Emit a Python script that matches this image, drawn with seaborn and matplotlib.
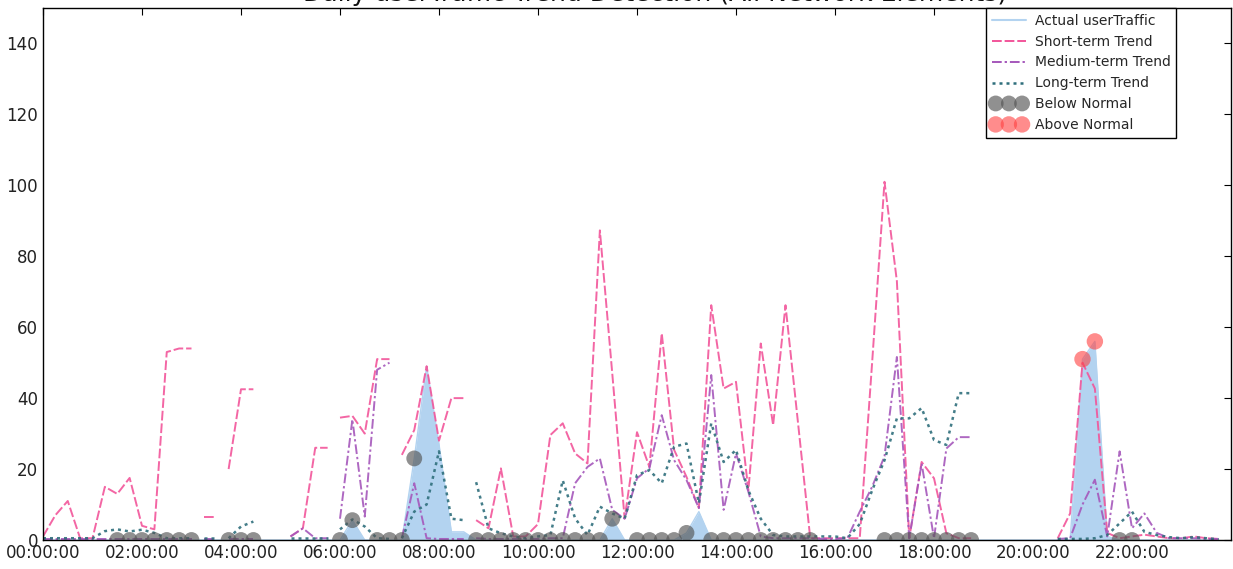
import numpy as np
import pandas as pd
import matplotlib
matplotlib.use("Agg")
import matplotlib.pyplot as plt
import seaborn as sns
from matplotlib.lines import Line2D

sns.set_style("white")
plt.rcParams["font.family"] = ["DejaVu Sans"]

nan = np.nan

# ---------------- data: one reading every 15 minutes ----------------
slot_hours = np.arange(96) * 0.25

actual_traffic = [
    0, 0, 0, 0, 0, 0, 0, 0, 0, 0, 0, 0,
    0, 0, 0, 0, 0, 0, 0, 0, 0, 0, 0, 0,
    0, 5.6, 0, 0, 0, 0, 23, 49, 27, 2.3, 2.3, 0,
    0, 0, 0, 0, 0, 0, 0, 0, 0, 0, 6, 0,
    0, 0, 0, 0, 2, 8, 0, 0, 0, 0, 0, 0,
    0, 0, 0, 0, 0, 0, 0, 0, 0, 0, 0, 0,
    0, 0, 0, 0, 0, 0, 0, 0, 0, 0, 0, 0,
    51, 56, 1, 0, 0, 0, 0, 0, 0, 0, 0, 0,
]

short_trend = [
    1, 7, 11, 0.5, 0.5, 15, 13, 17.5, 4, 3, 53, 54,
    54, 6.5, 6.5, 20, 42.5, 42.5, nan, nan, 1, 3.3, 26, 26,
    34.5, 35, 30, 51, 51, 24, 31, 49, 28, 40, 40, 5.6,
    3.3, 20.2, 1, 1, 4.5, 29.6, 32.9, 24.4, 21.6, 87.3, 47, 6.1,
    30.4, 20.6, 58.3, 25.4, 17.8, 9, 66.2, 42.7, 44.6, 14, 55.4, 32.4,
    66.2, 33.4, 0.5, 0.5, 0.5, 0.5, 0.5, 50, 101, 73, 0.5, 22,
    17.4, 1.9, 0.5, 0.5, nan, nan, nan, nan, nan, nan, 0.5, 7.5,
    50, 42.7, 2, 0.5, 1, 1.5, 1, 0.5, 0.5, 1, 0.5, 0.3,
]

medium_trend = [
    0.3, 0.3, 0.3, 0.3, 0.3, 0.3, 0.3, 0.3, 0.3, 0.3, 0.3, 0.3,
    0.3, 0.3, 0.3, 0.3, 0.3, 0.3, nan, nan, 1, 3.3, 0.5, 0.5,
    6, 34, 6.6, 48, 50, 0.5, 16, 0.5, 0.3, 0.3, 0.3, 0.5,
    0.3, 0.3, 0.3, 0.3, 0.3, 0.5, 0.5, 16, 20.6, 23, 8.5, 6,
    17.4, 20.2, 35.2, 22.5, 16.9, 9, 46.5, 8.5, 24.4, 13.6, 1, 0.5,
    0.5, 0.5, 0.5, 0.3, 0.3, 0.5, 8, 15, 23.6, 51.6, 0.5, 21.6,
    0.5, 25.8, 29, 29, nan, nan, nan, nan, nan, nan, 0.3, 0.5,
    10, 17, 1, 25, 3.3, 7.5, 2, 0.5, 0.5, 0.5, 0.3, 0.3,
]

long_trend = [
    0.5, 0.5, 0.5, 0.5, 0.5, 2.5, 3.0, 2.4, 2.9, 2.0, 0.5, 0.5,
    0.5, 0.5, 0.5, 0.5, 3.8, 5.2, nan, nan, 0.5, 0.5, 0.5, 0.5,
    3, 5.8, 3.8, 0.5, 0.3, 0.5, 8, 10, 25, 6, 5.6, 16.3,
    3.3, 1.9, 1, 0.5, 1, 1.4, 16.8, 6.1, 1.4, 9.4, 7.5, 6,
    18.3, 19.7, 16, 26.3, 27.2, 10.4, 32.9, 22, 25.4, 14, 6, 1.4,
    1, 1, 1, 1, 1, 0.5, 4.5, 14, 22.5, 34.3, 34.3, 37.2,
    28.2, 26.8, 41.4, 41.4, nan, nan, nan, nan, nan, nan, 0.3, 0.3,
    0.3, 0.5, 1.4, 4.7, 8, 2.3, 1.4, 0.8, 0.5, 0.8, 0.5, 0.2,
]

# readings missing right before these slots (trend lines restart there)
trend_breaks = [13, 15, 24, 29, 35]

below_slots = [6, 7, 8, 9, 10, 11, 12, 15, 16, 17, 24, 25, 27, 28, 29, 30,
               35, 36, 37, 38, 39, 40, 41, 42, 43, 44, 45, 46,
               48, 49, 50, 51, 52, 54, 55, 56, 57, 58, 59, 60, 61, 62,
               68, 69, 70, 71, 72, 73, 74, 75, 87, 88]
above_slots = [84, 85]

x_tick_hours = list(range(0, 24, 2))
x_tick_labels = [f"{h:02d}:00:00" for h in x_tick_hours]
y_ticks = [0, 20, 40, 60, 80, 100, 120, 140]

COLOR_ACTUAL = '#b3d3f0'
COLOR_SHORT = '#f2559a'
COLOR_MEDIUM = '#a557bb'
COLOR_LONG = '#2f6f7c'
COLOR_BELOW = '#555555'
COLOR_ABOVE = '#ff4040'

LS_SHORT = (0, (5, 1.5))
LS_MEDIUM = (0, (5, 1.5, 1.2, 1.5))
LS_LONG = (0, (1.2, 1.6))


def trend_frame(values):
    df = pd.DataFrame({"hour": slot_hours, "value": values})
    brk = df["value"].isna() | df.index.isin(trend_breaks)
    df["seg"] = brk.cumsum()
    return df.dropna()


fig = plt.figure(figsize=(12.33, 5.69), dpi=100)
ax = fig.add_axes([43 / 1233, 29 / 569, 1188 / 1233, 532 / 569])

# actual traffic as a filled area
ax.fill_between(slot_hours, 0, actual_traffic, color=COLOR_ACTUAL, lw=0, zorder=1)
sns.lineplot(x=slot_hours, y=actual_traffic, color=COLOR_ACTUAL, lw=1,
             ax=ax, legend=False, zorder=1)

styles = [
    (short_trend, COLOR_SHORT, LS_SHORT, 1.4),
    (medium_trend, COLOR_MEDIUM, LS_MEDIUM, 1.4),
    (long_trend, COLOR_LONG, LS_LONG, 1.8),
]
for vals, col, ls, lw in styles:
    d = trend_frame(vals)
    sns.lineplot(data=d, x="hour", y="value", units="seg", estimator=None,
                 color=col, linestyle=ls, lw=lw, alpha=0.9, ax=ax,
                 legend=False, zorder=2)

actual_arr = np.array(actual_traffic)
sns.scatterplot(x=slot_hours[below_slots], y=actual_arr[below_slots],
                color=COLOR_BELOW, s=130, alpha=0.65, edgecolor='none',
                ax=ax, legend=False, zorder=3)
below_handle = ax.collections[-1]
sns.scatterplot(x=slot_hours[above_slots], y=actual_arr[above_slots],
                color=COLOR_ABOVE, s=140, alpha=0.6, edgecolor='none',
                ax=ax, legend=False, zorder=3)
above_handle = ax.collections[-1]

ax.set_xlim(0, 24)
ax.set_ylim(0, 150)
ax.set_xticks(x_tick_hours)
ax.set_xticklabels(x_tick_labels)
ax.set_yticks(y_ticks)
ax.set_xlabel("")
ax.set_ylabel("")
ax.tick_params(direction='in', length=5, top=True, right=True,
               labelsize=12, colors='black', labelcolor='#222222')
ax.tick_params(axis='x', pad=3)
for sp in ax.spines.values():
    sp.set_color('black')
    sp.set_linewidth(1.0)

handles = [
    Line2D([], [], color=COLOR_ACTUAL, lw=1.5),
    Line2D([], [], color=COLOR_SHORT, ls=LS_SHORT, lw=1.4),
    Line2D([], [], color=COLOR_MEDIUM, ls=LS_MEDIUM, lw=1.4),
    Line2D([], [], color=COLOR_LONG, ls=LS_LONG, lw=1.8),
    below_handle,
    above_handle,
]
labels = ['Actual userTraffic', 'Short-term Trend', 'Medium-term Trend',
          'Long-term Trend', 'Below Normal', 'Above Normal']
leg = ax.legend(handles, labels, loc='upper right',
                bbox_to_anchor=(1176 / 1233, 1 - 8 / 569),
                bbox_transform=fig.transFigure, borderaxespad=0,
                fontsize=10, scatterpoints=3, scatteryoffsets=[0.5],
                handlelength=2.5, handletextpad=0.6, labelspacing=0.5,
                borderpad=0.4, fancybox=False, framealpha=1,
                edgecolor='black')
leg.get_frame().set_linewidth(1.0)
leg.set_zorder(10)

# title sits mostly above the visible area, as in the source image
fig.text(655 / 1233, 1 - 1.5 / 569,
         "Daily userTraffic Trend Detection (All Network Elements)",
         ha='center', va='baseline', fontsize=18, color='#111111')

fig.savefig("out.png", dpi=100)
